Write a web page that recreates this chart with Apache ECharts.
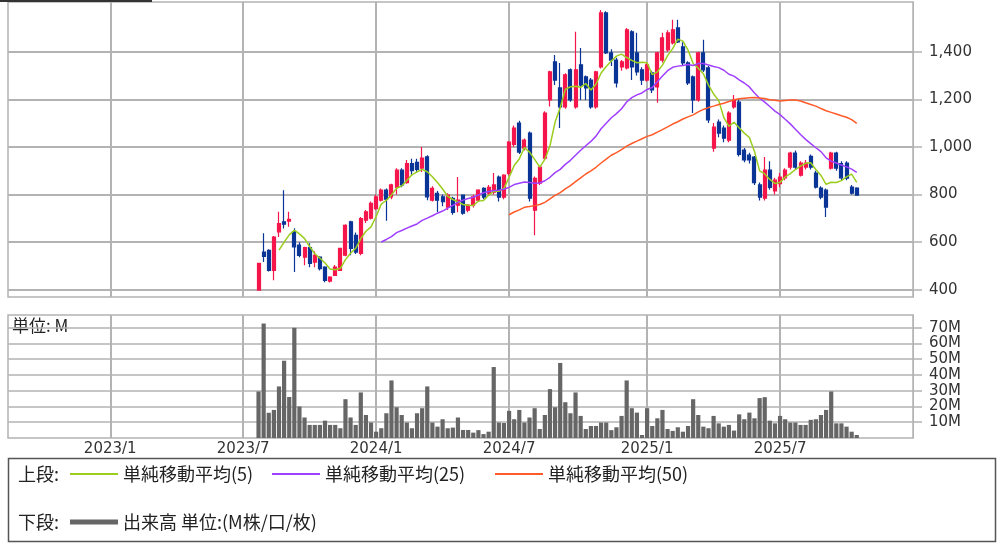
<!DOCTYPE html>
<html><head><meta charset="utf-8">
<script src="https://cdn.jsdelivr.net/npm/echarts@6/dist/echarts.min.js"></script>
<style>html,body{margin:0;padding:0;background:#fff}#c{width:1004px;height:546px}</style>
</head><body><div id="c"></div>
<script>
// ---- categories (weekly, Monday dates) ----
const weekStart = '2022-08-15';
const weekCount = 178;
const firstCandleWeek = '2023-07-24';

// ---- weekly OHLC ----
const openP = [398,558,565,481,643,685,688,643,587,537,577,516,537,495,436,460,481,545,685,628,
552,692,700,740,776,818,790,830,902,850,930,935,911,958,776,805,790,747,784,755,
797,734,755,776,826,805,810,873,789,889,1010,1100,995,1058,734,848,953,1197,1357,1248,
1168,1324,1168,1345,1294,1281,1168,1336,1563,1395,1365,1336,1332,1484,1395,1324,1281,1311,1252,1365,
1408,1437,1500,1420,1353,1294,1197,1395,1332,995,1104,1079,1028,1168,1188,987,965,957,840,785,
902,815,845,870,915,974,881,915,960,890,827,818,911,974,930,932,831,827];
const closeP = [510,540,481,621,678,675,695,580,544,577,510,544,488,439,453,495,573,670,573,558,
699,727,763,790,818,780,840,902,840,930,900,905,953,790,826,776,770,797,725,776,
721,755,790,818,789,830,840,789,881,1020,1079,978,1029,784,868,915,1142,1315,1281,1168,
1303,1197,1324,1260,1248,1168,1315,1563,1395,1365,1269,1357,1492,1336,1315,1281,1345,1240,1395,1458,
1479,1492,1441,1353,1269,1197,1395,1324,1113,1083,1058,1037,1142,1197,968,945,945,850,789,902,
830,860,873,902,974,915,932,932,915,831,789,747,974,911,870,869,805,797];
const lowP = [395,516,476,439,621,657,664,474,536,502,494,494,480,431,430,458,478,540,545,550,
545,680,695,735,770,690,780,800,830,845,880,890,894,776,770,725,750,735,715,725,
715,725,745,770,780,795,800,770,780,880,1000,970,985,770,629,840,945,1170,1260,1079,
1160,1190,1160,1197,1197,1160,1160,1330,1390,1340,1250,1320,1325,1281,1300,1260,1275,1227,1185,1355,
1400,1430,1437,1340,1260,1142,1190,1315,1100,980,1040,1020,1020,1160,960,935,930,840,775,775,
820,800,830,860,905,905,875,905,905,825,780,705,905,900,860,860,800,795];
const highP = [512,637,570,625,727,818,727,658,599,580,595,561,540,498,456,503,575,675,690,640,
705,735,770,800,825,825,845,910,910,945,950,950,999,965,835,815,800,805,790,873,
800,760,800,822,830,840,890,880,885,1025,1090,1110,1035,1065,875,920,1150,1320,1386,1353,
1310,1330,1484,1416,1300,1290,1320,1575,1570,1410,1375,1365,1500,1490,1480,1335,1350,1320,1400,1480,
1490,1534,1534,1440,1360,1300,1400,1450,1340,1100,1115,1090,1150,1218,1200,995,975,962,850,957,
940,870,890,910,980,985,940,945,968,900,835,825,980,980,940,940,840,830];

// ---- weekly volume (M) ----
const volume = [29.5,72.6,16,17.8,32.7,49,26,69.9,20,13,8.3,8.3,8.3,11,8.3,8.3,6.2,24.6,13,8.3,
28.9,14.6,9.8,4,6.2,15.7,36.5,19.5,14.6,9.8,6.2,15.7,18.9,32.7,9.8,7.2,11.9,6.2,6.6,13,
5.1,5.1,3.4,5,2.5,4,45,9.8,9.5,17.2,11.9,17.8,9.8,13,18.9,5.7,14.6,31,19.5,47.6,
22.7,15.7,28.9,14,5.7,7.6,7.6,9.8,9.8,5,6.8,14,36.5,18.9,16.1,1.9,18.9,7.6,12.5,17.8,
5.7,4.5,6.8,4,7.6,24.6,14.6,7.2,6.2,14,9.3,7.2,8.3,4.7,15,11.9,16.1,12.5,25.3,25.9,
11,9.3,14,11.9,9.8,9.8,8.3,8.3,11.5,11.9,14.6,17.8,29.5,9.3,9.3,7.2,4,1.9];

// ---- axis ticks / labels ----
const priceTicks = [400,600,800,1000,1200,1400];
const volumeTicks = [10,20,30,40,50,60,70];
const maPeriods = [5,25,50];
const maNames = ['単純移動平均(5)','単純移動平均(25)','単純移動平均(50)'];
const volumeName = '出来高 単位:(M株/口/枚)';

// ---- build ----
const DAY = 86400000;
const t0 = Date.parse(weekStart + 'T00:00:00Z');
const weeks = [];
for (let k = 0; k < weekCount; k++) {
  const d = new Date(t0 + k * 7 * DAY);
  weeks.push({s: d.toISOString().slice(0,10), y: d.getUTCFullYear(), m: d.getUTCMonth()+1, d: d.getUTCDate()});
}
const cats = weeks.map(w => w.s);
const offset = cats.indexOf(firstCandleWeek);
const N = closeP.length;
const candle = cats.map((c,k) => { const i = k - offset; return (i>=0 && i<N) ? [openP[i], closeP[i], lowP[i], highP[i]] : '-'; });
const vol = cats.map((c,k) => { const i = k - offset; return (i>=0 && i<N) ? volume[i] : '-'; });
function sma(n) {
  return cats.map((c,k) => {
    const i = k - offset;
    if (i < n-1 || i >= N) return '-';
    let s = 0; for (let j = i-n+1; j <= i; j++) s += closeP[j];
    return +(s/n).toFixed(2);
  });
}
const isHalfYear = (idx) => idx > 0 && idx < weeks.length-1 && (weeks[idx].m === 1 || weeks[idx].m === 7) && weeks[idx].d <= 7;

const GRID = '#b3b3b3';
const maColors = ['#9acd1e','#a040ff','#ff5a28'];
const chart = echarts.init(document.getElementById('c'), null, {renderer:'canvas'});
const axisFont = {fontFamily:'DejaVu Sans', fontSize:15, color:'#333'};
const jpFont = 'Noto Sans CJK JP';
const legendText = {fontFamily:jpFont, fontSize:18, lineHeight:18, color:'#222'};

const xCommon = {
  type:'category', data:cats, boundaryGap:false,
  axisLine:{show:false}, axisTick:{show:false},
  splitLine:{show:true, interval:(i)=>isHalfYear(i), lineStyle:{color:GRID, width:2}}
};
const legendBase = {icon:'rect', itemWidth:48, itemGap:0, padding:0, selectedMode:false, textStyle:legendText};

chart.setOption({
  animation:false,
  backgroundColor:'#fff',
  grid:[
    {left:8, top:2, width:905, height:295, show:true, borderColor:GRID, borderWidth:1.5},
    {left:8, top:315, width:905, height:123, show:true, borderColor:GRID, borderWidth:1.5}
  ],
  xAxis:[
    Object.assign({}, xCommon, {gridIndex:0, axisLabel:{show:false}}),
    Object.assign({}, xCommon, {gridIndex:1, axisLabel:Object.assign({show:true, interval:(i)=>isHalfYear(i), margin:4,
      formatter:(v)=>{const p=v.split('-'); return p[0]+'/'+(+p[1]);}}, axisFont)})
  ],
  yAxis:[
    {gridIndex:0, type:'value', position:'right', min:369, max:1609, scale:true,
     axisLine:{show:true, lineStyle:{color:GRID}},
     axisTick:{show:true, length:9, customValues:priceTicks, lineStyle:{color:GRID, width:1.5}},
     axisLabel:Object.assign({customValues:priceTicks, margin:16, formatter:(v)=>v.toLocaleString('en-US')}, axisFont),
     splitLine:{show:true, lineStyle:{color:GRID, width:2}}},
    {gridIndex:1, type:'value', position:'right', min:0, max:78,
     axisLine:{show:true, lineStyle:{color:GRID}},
     axisTick:{show:true, length:9, customValues:volumeTicks, lineStyle:{color:GRID, width:1.5}},
     axisLabel:Object.assign({customValues:volumeTicks, margin:16, formatter:(v)=>v+'M'}, axisFont),
     splitLine:{show:true, lineStyle:{color:GRID, width:1.5}}}
  ],
  legend:[
    Object.assign({data:[maNames[0]], left:70, top:465, itemHeight:2}, legendBase),
    Object.assign({data:[maNames[1]], left:272, top:465, itemHeight:2}, legendBase),
    Object.assign({data:[maNames[2]], left:495, top:465, itemHeight:2}, legendBase),
    Object.assign({data:[volumeName], left:70, top:513, itemHeight:5}, legendBase)
  ],
  graphic:[
    {type:'rect', left:0, top:0, shape:{width:152, height:2}, style:{fill:'#333'}, silent:true},
    {type:'rect', shape:{x:8.5, y:458.5, width:987, height:83}, style:{fill:'none', stroke:'#555', lineWidth:1.5}, silent:true},
    {type:'text', x:18, y:474, style:{text:'上段:', font:'18px "Noto Sans CJK JP"', fill:'#222', verticalAlign:'middle'}},
    {type:'text', x:18, y:522, style:{text:'下段:', font:'18px "Noto Sans CJK JP"', fill:'#222', verticalAlign:'middle'}},
    {type:'text', x:12, y:326, style:{text:'単位: M', font:'17px "Noto Sans CJK JP"', fill:'#222', verticalAlign:'middle'}}
  ],
  series:[
    {type:'candlestick', name:'株価', xAxisIndex:0, yAxisIndex:0, data:candle, barWidth:3.5,
     itemStyle:{color:'#f5164b', color0:'#0a3596', borderColor:'#f5164b', borderColor0:'#0a3596', borderWidth:1.2}},
    {type:'line', name:maNames[0], xAxisIndex:0, yAxisIndex:0, data:sma(maPeriods[0]), symbol:'none', color:maColors[0], lineStyle:{width:1.5, color:maColors[0]}},
    {type:'line', name:maNames[1], xAxisIndex:0, yAxisIndex:0, data:sma(maPeriods[1]), symbol:'none', color:maColors[1], lineStyle:{width:1.5, color:maColors[1]}},
    {type:'line', name:maNames[2], xAxisIndex:0, yAxisIndex:0, data:sma(maPeriods[2]), symbol:'none', color:maColors[2], lineStyle:{width:1.5, color:maColors[2]}},
    {type:'bar', name:volumeName, xAxisIndex:1, yAxisIndex:1, data:vol, barWidth:4.2, color:'#666666', itemStyle:{color:'#666666'}}
  ]
});
</script></body></html>
